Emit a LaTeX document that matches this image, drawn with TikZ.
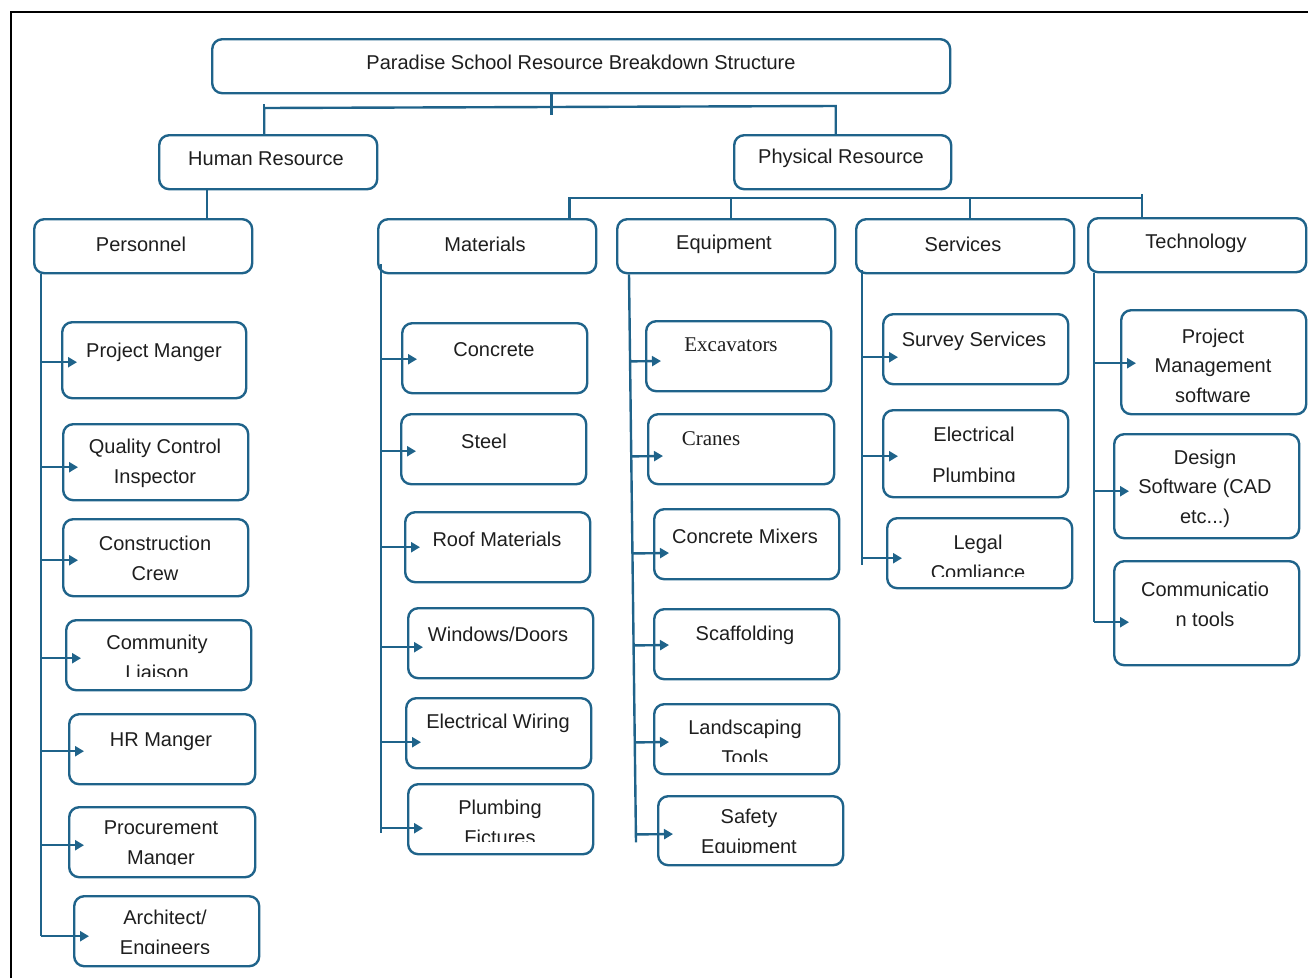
\documentclass[tikz,border=0pt]{standalone}
\usepackage{fontspec}
\setmainfont{Liberation Sans}
\newfontfamily\serifface{Liberation Serif}
\usetikzlibrary{arrows.meta,calc}

\definecolor{wbsblue}{RGB}{31,99,138}
\definecolor{wbstext}{RGB}{30,30,30}

% rounded box from its corners (x1,y1) to (x2,y2), y measured downwards
\newcommand\rbox[5]{%
  \pgfmathsetmacro\bw{#4-#2}\pgfmathsetmacro\bh{#5-#3}%
  \node[box, minimum width=\bw pt, minimum height=\bh pt] (#1) at (#2,#3) {};}
% text whose last line is cut off at the bottom of its text area
\newcommand\cliptext[5]{%
  \begin{scope}
    \clip ({#3-140},{#4-60}) rectangle ({#3+140},#5);
    \node[lbl] (#1) at (#3,#4) {#2};
  \end{scope}}
% arrow from a column trunk (#1 -- #2) into box #3, shifted #4 downwards
\newcommand\feed[4]{%
  \coordinate (#3-in) at ($(#3.west)+(0,#4)$);
  \draw[arr] ($(#1)!(#3-in)!(#2)$) -- (#3-in);}

\begin{document}
\begin{tikzpicture}[x=1pt,y=-1pt,
  box/.style={draw=wbsblue, line width=2.4pt, rounded corners=10pt,
    inner sep=0pt, anchor=north west},
  lbl/.style={font=\fontsize{20}{29.5}\selectfont, text=wbstext,
    align=center, inner sep=0pt, yshift=-1.5pt},
  serif lbl/.style={lbl, font=\serifface\fontsize{21}{29.5}\selectfont},
  link/.style={draw=wbsblue, line width=2.4pt},
  arr/.style={link, -{Triangle[length=9pt,width=10pt]}, shorten >=-16pt}]

\useasboundingbox (0,0) rectangle (1308,978);

% page frame
\draw[black, line width=2.2pt] (11,978) -- (11,12) -- (1308,12);

% ---------- boxes ----------
\rbox{title}{211}{38}{949}{92}
\rbox{hr}{158}{134}{376}{188}
\rbox{ph}{733}{134}{950}{188}
\rbox{ps}{33}{218}{251}{272}
\rbox{mat}{377}{218}{595}{272}
\rbox{eq}{616}{218}{834}{272}
\rbox{sv}{855}{218}{1073}{272}
\rbox{tec}{1087}{217}{1305}{271}

\rbox{pm}{61}{321}{245}{397}
\rbox{qc}{62}{423}{247}{499}
\rbox{cc}{62}{518}{247}{595}
\rbox{cl}{65}{619}{250}{689}
\rbox{hm}{68}{713}{254}{783}
\rbox{pr}{68}{806}{254}{876}
\rbox{ar}{73}{895}{258}{965}

\rbox{con}{401}{322}{586}{392}
\rbox{stl}{400}{413}{585}{483}
\rbox{roof}{404}{511}{589}{581}
\rbox{win}{407}{607}{592}{677}
\rbox{ew}{405}{697}{590}{767}
\rbox{pf}{407}{783}{592}{853}

\rbox{exc}{645}{320}{830}{390}
\rbox{crn}{647}{413}{833}{483}
\rbox{cm}{653}{508}{838}{578}
\rbox{scf}{653}{608}{838}{678}
\rbox{lt}{653}{703}{838}{773}
\rbox{se}{657}{795}{842}{864}

\rbox{ss}{882}{313}{1067}{383}
\rbox{ep}{882}{409}{1067}{496}
\rbox{lc}{886}{517}{1071}{587}

\rbox{pms}{1120}{309}{1305}{413}
\rbox{ds}{1113}{433}{1298}{537}
\rbox{com}{1113}{560}{1298}{664}

% ---------- labels ----------
\node[lbl] (title-t) at (581,61) {Paradise School Resource Breakdown Structure};
\node[lbl] (hr-t) at (266,157) {Human Resource};
\node[lbl] (ph-t) at (841,157) {Physical Resource};
\node[lbl] (ps-t) at (141,243) {Personnel};
\node[lbl] (mat-t) at (485,243) {Materials};
\node[lbl] (eq-t) at (724,243) {Equipment};
\node[lbl] (sv-t) at (963,243) {Services};
\node[lbl] (tec-t) at (1196,242) {Technology};

\node[lbl] (pm-t) at (154,351) {Project Manger};
\node[lbl] (qc-t) at (155,462) {Quality Control\\Inspector};
\node[lbl] (cc-t) at (155,557) {Construction\\Crew};
\cliptext{cl-t}{Community\\Liaison}{157}{656}{676}
\node[lbl] (hm-t) at (161,740) {HR Manger};
\cliptext{pr-t}{Procurement\\Manger}{161}{843}{864}
\cliptext{ar-t}{Architect/\\Engineers}{165}{933}{953}

\node[lbl] (con-t) at (494,348) {Concrete};
\node[lbl] (stl-t) at (484,440) {Steel};
\node[lbl] (roof-t) at (497,538) {Roof Materials};
\node[lbl] (win-t) at (498,633) {Windows/Doors};
\node[lbl] (ew-t) at (498,722) {Electrical Wiring};
\cliptext{pf-t}{Plumbing\\Fictures}{500}{821}{841}

\node[serif lbl] (exc-t) at (731,343) {Excavators};
\node[serif lbl] (crn-t) at (711,437) {Cranes};
\node[lbl] (cm-t) at (745,535) {Concrete Mixers};
\node[lbl] (scf-t) at (745,634) {Scaffolding};
\cliptext{lt-t}{Landscaping\\Tools}{745}{741}{761}
\cliptext{se-t}{Safety\\Equipment}{749}{832}{852}

\node[lbl] (ss-t) at (974,340) {Survey Services};
\cliptext{ep-t}{Electrical\\[11.5pt]Plumbing}{974}{455}{481}
\cliptext{lc-t}{Legal\\Comliance}{978}{556}{576}

\node[lbl] (pms-t) at (1213,364) {Project\\Management\\software};
\node[lbl] (ds-t) at (1205,487) {Design\\Software (CAD\\etc...)};
\node[lbl] (com-t) at (1205,603) {Communicatio\\n tools};

% ---------- upper connectors ----------
\coordinate (tj) at ($(title.south west)!0.46!(title.south east)$);
\draw[link] (tj) -- ++(0,21);
\coordinate (hrj) at ([xshift=-4pt]hr.north);
\coordinate (phj) at ([xshift=-7pt]ph.north);
\draw[link] (hrj) -- ++(0,-26) -- ($(phj)+(0,-28)$) -- (phj);
\draw[link] (hrj) -- ++(0,-30);

\coordinate (hp) at ([xshift=-61pt]hr.south);
\draw[link] (hp) -- (hp |- ps.north);

\coordinate (mj) at ([xshift=-28pt]mat.north east);
\coordinate (ej) at ([xshift=5pt]eq.north);
\coordinate (sj) at ([xshift=5pt]sv.north);
\coordinate (tcj) at ([xshift=-55pt]tec.north);
\draw[link] (mj) -- ++(0,-20) -- ($(tcj)+(0,-19)$);
\draw[link] ($(tcj)+(0,-23)$) -- (tcj);
\draw[link] (ej) -- ++(0,-20);
\draw[link] (sj) -- ++(0,-20);

% ---------- Personnel column ----------
\coordinate (pA) at ([xshift=8pt]ps.south west);
\coordinate (ar-in) at ($(ar.west)+(0,5)$);
\coordinate (pB) at (pA |- ar-in);
\draw[link] (pA) -- (pB);
\feed{pA}{pB}{pm}{2}
\feed{pA}{pB}{qc}{5}
\feed{pA}{pB}{cc}{2.5}
\feed{pA}{pB}{cl}{3}
\feed{pA}{pB}{hm}{2}
\feed{pA}{pB}{pr}{3}
\draw[arr] (pB) -- (ar-in);

% ---------- Materials column ----------
\coordinate (mA) at ([xshift=4pt,yshift=10pt]mat.south west);
\coordinate (mB) at ($(mA)+(0,569)$);
\draw[link] (mA) -- (mB);
\feed{mA}{mB}{con}{1}
\feed{mA}{mB}{stl}{2}
\feed{mA}{mB}{roof}{0}
\feed{mA}{mB}{win}{4}
\feed{mA}{mB}{ew}{9}
\feed{mA}{mB}{pf}{9}

% ---------- Equipment column ----------
\coordinate (eA) at ([xshift=13pt]eq.south west);
\coordinate (eB) at ($(eA)+(7,568)$);
\draw[link] (eA) -- (eB);
\feed{eA}{eB}{exc}{5}
\feed{eA}{eB}{crn}{7}
\feed{eA}{eB}{cm}{9}
\feed{eA}{eB}{scf}{1}
\feed{eA}{eB}{lt}{3}
\feed{eA}{eB}{se}{3.5}

% ---------- Services column ----------
\coordinate (sA) at ([xshift=7pt,yshift=4pt]sv.south west);
\coordinate (sB) at ($(sA)+(0,295)$);
\draw[link] (sA) -- (sB);
\feed{sA}{sB}{ss}{8}
\feed{sA}{sB}{ep}{2.5}
\feed{sA}{sB}{lc}{5}

% ---------- Technology column ----------
\coordinate (tA) at ([xshift=7pt]tec.south west);
\coordinate (com-in) at ($(com.west)+(0,9)$);
\coordinate (tB) at (tA |- com-in);
\draw[link] (tA) -- (tB);
\feed{tA}{tB}{pms}{1}
\feed{tA}{tB}{ds}{5}
\draw[arr] (tB) -- (com-in);

\end{tikzpicture}
\end{document}
